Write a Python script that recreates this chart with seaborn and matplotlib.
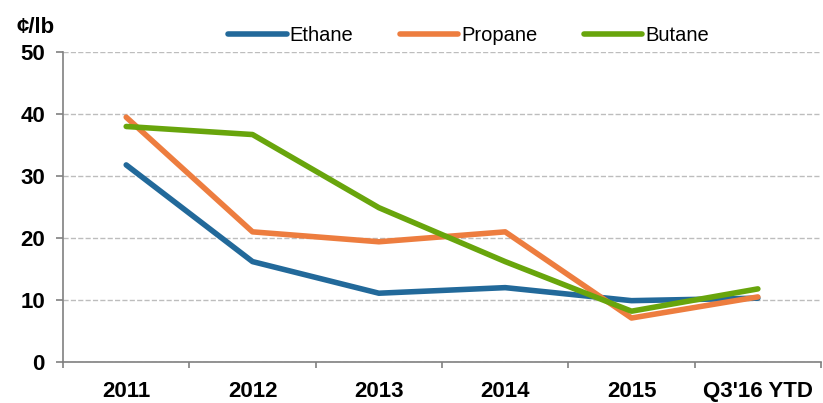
import pandas as pd
import seaborn as sns
import matplotlib.pyplot as plt

# chart values
years = ['2011', '2012', '2013', '2014', '2015', "Q3'16 YTD"]
ethane = [31.8, 16.2, 11.1, 12.0, 9.9, 10.3]
propane = [39.5, 21.0, 19.4, 21.0, 7.1, 10.5]
butane = [38.0, 36.7, 24.9, 16.2, 8.2, 11.8]

colors = {'Ethane': '#22699A', 'Propane': '#ED7D3F', 'Butane': '#68A50C'}

df = pd.DataFrame({'Year': years * 3,
                   'Price': ethane + propane + butane,
                   'Product': ['Ethane'] * 6 + ['Propane'] * 6 + ['Butane'] * 6})

sns.set_style('white')
plt.rcParams['font.family'] = ['Liberation Sans', 'DejaVu Sans']
plt.rcParams['text.color'] = 'black'
plt.rcParams['xtick.labelcolor'] = 'black'
plt.rcParams['ytick.labelcolor'] = 'black'

fig = plt.figure(figsize=(8.23, 4.03), dpi=100)
ax = fig.add_axes([0.0766, 0.1017, 0.921, 0.769])

sns.lineplot(data=df, x='Year', y='Price', hue='Product', palette=colors,
             linewidth=4, sort=False, ax=ax, solid_capstyle='round')

ax.set_xlim(-0.5, 5.5)
ax.set_ylim(0, 50)
ax.set_yticks(range(0, 51, 10))
ax.yaxis.grid(True, color='#BDBDBD', linestyle='--', linewidth=1)
ax.set_axisbelow(True)

# category boundaries as major ticks, labels on minor ticks
ax.set_xticks([i - 0.5 for i in range(7)])
ax.set_xticklabels([])
ax.set_xticks(range(6), minor=True)
ax.set_xticklabels(years, minor=True, fontsize=16, fontweight='bold')
ax.tick_params(axis='x', which='major', bottom=True, length=4, width=1.2,
               color='#808080', direction='out')
ax.tick_params(axis='x', which='minor', bottom=True, length=0, pad=14)
ax.tick_params(axis='y', left=True, length=5, width=1.2, color='#808080',
               direction='out', labelsize=16, pad=8)
for lab in ax.get_yticklabels():
    lab.set_fontweight('bold')

for s in ['top', 'right']:
    ax.spines[s].set_visible(False)
for s in ['left', 'bottom']:
    ax.spines[s].set_color('#808080')
    ax.spines[s].set_linewidth(1.2)

ax.set_xlabel('')
ax.set_ylabel('')
ax.text(-0.061, 1.045, '¢/lb', transform=ax.transAxes, fontsize=16, fontweight='bold',
        ha='left', va='bottom')

ax.legend(loc='lower center', bbox_to_anchor=(0.535, 0.965), ncol=3, frameon=False,
          fontsize=14.5, handlelength=2.9, handletextpad=0.15, columnspacing=2.3)

fig.savefig('out.png', dpi=100)
